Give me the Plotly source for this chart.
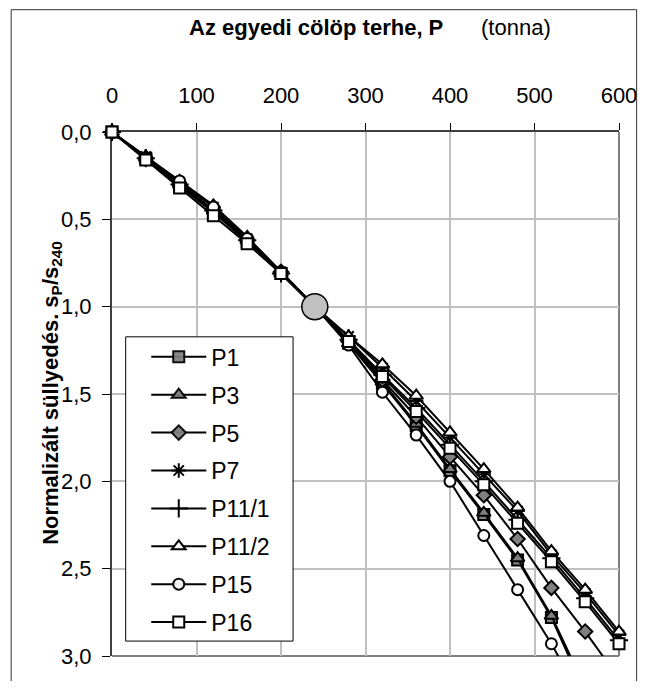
import plotly.graph_objects as go

# ---------------- data ----------------
loads = [0, 40, 80, 120, 160, 200, 240, 280, 320, 360, 400, 440, 480, 520, 560, 600]

p1 = [0, 0.15, 0.31, 0.46, 0.63, 0.81, 1.0, 1.21, 1.44, 1.68, 1.94, 2.19, 2.45, 2.78, 3.21]
p3 = [0, 0.15, 0.30, 0.45, 0.62, 0.81, 1.0, 1.21, 1.43, 1.67, 1.93, 2.18, 2.44, 2.77, 3.18]
p5 = [0, 0.15, 0.30, 0.45, 0.62, 0.80, 1.0, 1.20, 1.42, 1.63, 1.86, 2.08, 2.33, 2.61, 2.86, 3.13]
p7 = [0, 0.14, 0.29, 0.43, 0.61, 0.80, 1.0, 1.17, 1.35, 1.54, 1.75, 1.96, 2.17, 2.42, 2.64, 2.88]
p11_1 = [0, 0.15, 0.30, 0.45, 0.62, 0.81, 1.0, 1.19, 1.39, 1.58, 1.79, 2.00, 2.22, 2.44, 2.67, 2.91]
p11_2 = [0, 0.14, 0.28, 0.42, 0.60, 0.80, 1.0, 1.17, 1.33, 1.51, 1.72, 1.93, 2.15, 2.40, 2.62, 2.86]
p15 = [0, 0.15, 0.28, 0.43, 0.61, 0.80, 1.0, 1.22, 1.49, 1.735, 2.0, 2.31, 2.62, 2.93, 3.28]
p16 = [0, 0.16, 0.32, 0.48, 0.64, 0.81, 1.0, 1.20, 1.40, 1.60, 1.81, 2.02, 2.24, 2.46, 2.69, 2.93]

series_names = ["P1", "P3", "P5", "P7", "P11/1", "P11/2", "P15", "P16"]
series_values = [p1, p3, p5, p7, p11_1, p11_2, p15, p16]

ref_load = [240]
ref_value = [1.0]

x_ticks = [0, 100, 200, 300, 400, 500, 600]
y_ticks = [0.0, 0.5, 1.0, 1.5, 2.0, 2.5, 3.0]

x_title = "Az egyedi cölöp terhe, P"
x_unit = "(tonna)"
y_title = "Normalizált süllyedés. s<sub>P</sub>/s<sub>240</sub>"

# ---------------- styles ----------------
styles = {
    "P1": dict(symbol="square", size=11, color="#808080"),
    "P3": dict(symbol="triangle-up", size=12, color="#808080"),
    "P5": dict(symbol="diamond", size=11, color="#808080"),
    "P7": dict(symbol="asterisk-open", size=12, color="#000000"),
    "P11/1": dict(symbol="cross-thin-open", size=13, color="#000000"),
    "P11/2": dict(symbol="triangle-up", size=12, color="#ffffff"),
    "P15": dict(symbol="circle", size=11, color="#ffffff"),
    "P16": dict(symbol="square", size=11, color="#ffffff"),
}

FONT = "Arial, 'Liberation Sans', sans-serif"
FS = 22
OFF = 8                      # default body margin of the html page
W, H = 657 - 2 * OFF, 689 - 2 * OFF
# plot area (screen pixels)
X0, X1, Y0, Y1 = 112, 630, 132, 659
XMAX, YMAX = 600, 3.0
pw, ph = X1 - X0, Y1 - Y0


def px_x(px):
    return (px - X0) / pw


def px_y(py):
    return (Y1 - py) / ph


fig = go.Figure()

for name, vals in zip(series_names, series_values):
    st = styles[name]
    open_sym = st["symbol"].endswith("open")
    # markers that fall below the visible axis range are not shown
    vis = [1 if v <= YMAX else 0 for v in vals]
    fig.add_trace(go.Scatter(
        x=loads[:len(vals)], y=vals, name=name, mode="lines+markers",
        legendgroup=name, cliponaxis=False,
        line=dict(color="black", width=2),
        marker=dict(symbol=st["symbol"], size=st["size"], opacity=vis,
                    color=st["color"] if not open_sym else "black",
                    line=dict(color="black", width=2)),
    ))

fig.add_trace(go.Scatter(
    x=ref_load, y=ref_value, mode="markers", showlegend=False, cliponaxis=False,
    marker=dict(symbol="circle", size=26, color="#c0c0c0",
                line=dict(color="black", width=1.5)),
))

grid = dict(showgrid=True, gridcolor="#c0c0c0", gridwidth=2, ticks="")

fig.update_layout(
    width=W, height=H,
    margin=dict(l=X0 - OFF, r=W - (X1 - OFF), t=Y0 - OFF, b=H - (Y1 - OFF), pad=0),
    paper_bgcolor="white", plot_bgcolor="white",
    separators=", ",
    font=dict(family=FONT, size=FS, color="black"),
    showlegend=True,
    xaxis=dict(
        range=[0, XMAX], side="top", layer="below traces",
        tickvals=x_ticks, ticks="outside", ticklen=7, tickwidth=1, tickcolor="black",
        showline=True, linecolor="#404040", linewidth=2,
        showgrid=False, zeroline=False, ticklabelstandoff=11,
        minor=dict(tickvals=x_ticks[1:-1], **grid),
        tickfont=dict(size=FS, family=FONT),
    ),
    yaxis=dict(
        range=[YMAX, 0], layer="below traces",
        tickvals=y_ticks, tickformat=".1f",
        ticks="outside", ticklen=8, tickwidth=1, tickcolor="black",
        showline=True, linecolor="#404040", linewidth=2,
        showgrid=False, zeroline=False, ticklabelstandoff=6,
        minor=dict(tickvals=y_ticks[1:-1], **grid),
        tickfont=dict(size=FS, family=FONT),
    ),
    legend=dict(
        x=px_x(147), y=px_y(336.5), xanchor="left", yanchor="top",
        bgcolor="rgba(0,0,0,0)", borderwidth=0,
        font=dict(size=23, family=FONT), itemwidth=55, tracegroupgap=5,
    ),
    annotations=[
        dict(text="<b>" + x_title + "</b>", xref="paper", yref="paper",
             x=px_x(320), y=px_y(27), xanchor="center", yanchor="middle",
             showarrow=False, font=dict(size=FS, family=FONT)),
        dict(text=x_unit, xref="paper", yref="paper",
             x=px_x(525), y=px_y(27), xanchor="center", yanchor="middle",
             showarrow=False, font=dict(size=FS, family=FONT)),
        dict(text="<b>" + y_title + "</b>", xref="paper", yref="paper",
             x=px_x(50), y=px_y(394), xanchor="center", yanchor="middle",
             textangle=-90, showarrow=False, font=dict(size=FS, family=FONT)),
    ],
    shapes=[
        # gray right / bottom border of the plot area
        dict(type="line", xref="x domain", yref="y domain", x0=1, x1=1, y0=0, y1=1,
             line=dict(color="#808080", width=2), layer="below"),
        dict(type="line", xref="x domain", yref="y domain", x0=0, x1=1, y0=0, y1=0,
             line=dict(color="#808080", width=2), layer="below"),
        # legend box
        dict(type="rect", xref="paper", yref="paper",
             x0=px_x(126), x1=px_x(297), y0=px_y(644), y1=px_y(338),
             line=dict(color="black", width=1), fillcolor="white", layer="above"),
        # outer chart frame
        dict(type="rect", xref="paper", yref="paper",
             x0=px_x(9), x1=px_x(648), y0=px_y(720), y1=px_y(9),
             line=dict(color="#333333", width=1), fillcolor="rgba(0,0,0,0)"),
    ],
)

fig.write_html("out.html")
